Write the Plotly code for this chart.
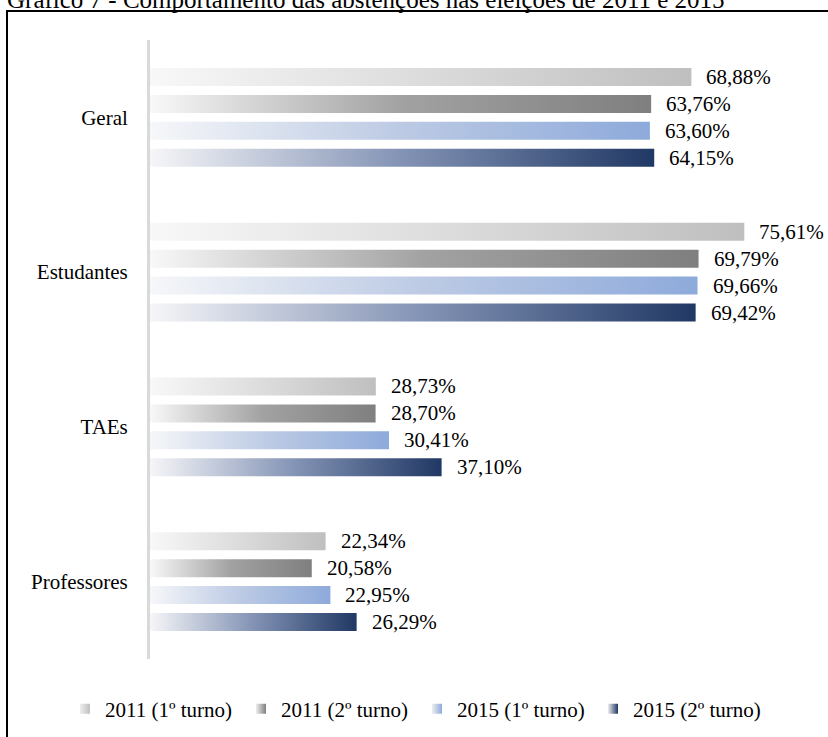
import plotly.graph_objects as go

categories = ["Geral", "Estudantes", "TAEs", "Professores"]
series_names = ["2011 (1º turno)", "2011 (2º turno)", "2015 (1º turno)", "2015 (2º turno)"]
v2011_t1 = [68.88, 75.61, 28.73, 22.34]
v2011_t2 = [63.76, 69.79, 28.70, 20.58]
v2015_t1 = [63.60, 69.66, 30.41, 22.95]
v2015_t2 = [64.15, 69.42, 37.10, 26.29]
title_text = "Gráfico 7 - Comportamento das abstenções nas eleições de 2011 e 2015"

series_values = [v2011_t1, v2011_t2, v2015_t1, v2015_t2]
scales = [
    [[0, "#f8f8f8"], [0.5, "#dcdcdc"], [1, "#bfbfbf"]],
    [[0, "#f8f8f8"], [0.5, "#a2a2a2"], [1, "#7f7f7f"]],
    [[0, "#f6f7f9"], [0.5, "#bccae4"], [1, "#8eaadb"]],
    [[0, "#f6f6f8"], [0.5, "#8393b5"], [1, "#203864"]],
]
end_colors = ["#bfbfbf", "#7f7f7f", "#8eaadb", "#203864"]

FONT = "Liberation Serif, Times New Roman, serif"
FS = 21

# plot area in pixels
PL, PR, PT, PB = 150, 810, 40, 659
PW, PH = PR - PL, PB - PT


def px_x(p):
    return (p - PL) / PW


def px_y(p):
    return (PB - p) / PH


n_cat = len(categories)
pitch = 27 / 155
half = 9 / 155

fig = go.Figure()
annotations = []
for s, (name, vals) in enumerate(zip(series_names, series_values)):
    for c, v in enumerate(vals):
        yc = (n_cat - 1 - c) + (1.5 - s) * pitch
        y0, y1 = yc - half, yc + half
        fig.add_trace(go.Scatter(
            x=[0, v, v, 0, 0], y=[y0, y0, y1, y1, y0],
            mode="lines", line=dict(width=0),
            fill="toself",
            fillgradient=dict(type="horizontal", colorscale=scales[s]),
            showlegend=False, hoverinfo="skip",
        ))
        annotations.append(dict(
            x=v, y=yc, xref="x", yref="y", text=f"{v:.2f}".replace(".", ",") + "%",
            showarrow=False, xanchor="left", yanchor="middle", xshift=13,
            font=dict(family=FONT, size=FS, color="#000000"),
        ))
    # legend-only entry
    fig.add_trace(go.Scatter(
        x=[None], y=[None], mode="markers", name=name,
        marker=dict(symbol="square", size=10, color="#eeeeee",
                    gradient=dict(type="horizontal", color=end_colors[s])),
    ))

annotations.append(dict(
    x=px_x(5), y=px_y(15), xref="paper", yref="paper",
    text=title_text, showarrow=False, xanchor="left", yanchor="bottom",
    font=dict(family=FONT, size=25, color="#000000"),
))

fig.update_layout(
    width=828, height=737,
    margin=dict(l=PL, r=828 - PR, t=PT, b=737 - PB, autoexpand=False),
    paper_bgcolor="white", plot_bgcolor="white",
    font=dict(family=FONT, size=FS, color="#000000"),
    xaxis=dict(range=[0, PW / 7.86], visible=False, fixedrange=True),
    yaxis=dict(range=[-0.5, n_cat - 0.5], tickvals=list(range(n_cat)),
               ticktext=categories[::-1], showgrid=False, zeroline=False,
               showline=True, linecolor="#d9d9d9", linewidth=3,
               ticks="outside", ticklen=15, tickcolor="rgba(0,0,0,0)",
               tickfont=dict(family=FONT, size=FS, color="#000000")),
    legend=dict(orientation="h", x=px_x(65), xanchor="left",
                y=px_y(709), yanchor="middle",
                font=dict(family=FONT, size=FS, color="#000000"),
                itemwidth=30, entrywidth=131, traceorder="normal"),
    annotations=annotations,
    shapes=[dict(type="rect", xref="paper", yref="paper",
                 x0=px_x(7), x1=px_x(860), y0=px_y(770), y1=px_y(11),
                 line=dict(color="#000000", width=2), layer="below")],
    showlegend=True,
)

fig.write_html("out.html")
